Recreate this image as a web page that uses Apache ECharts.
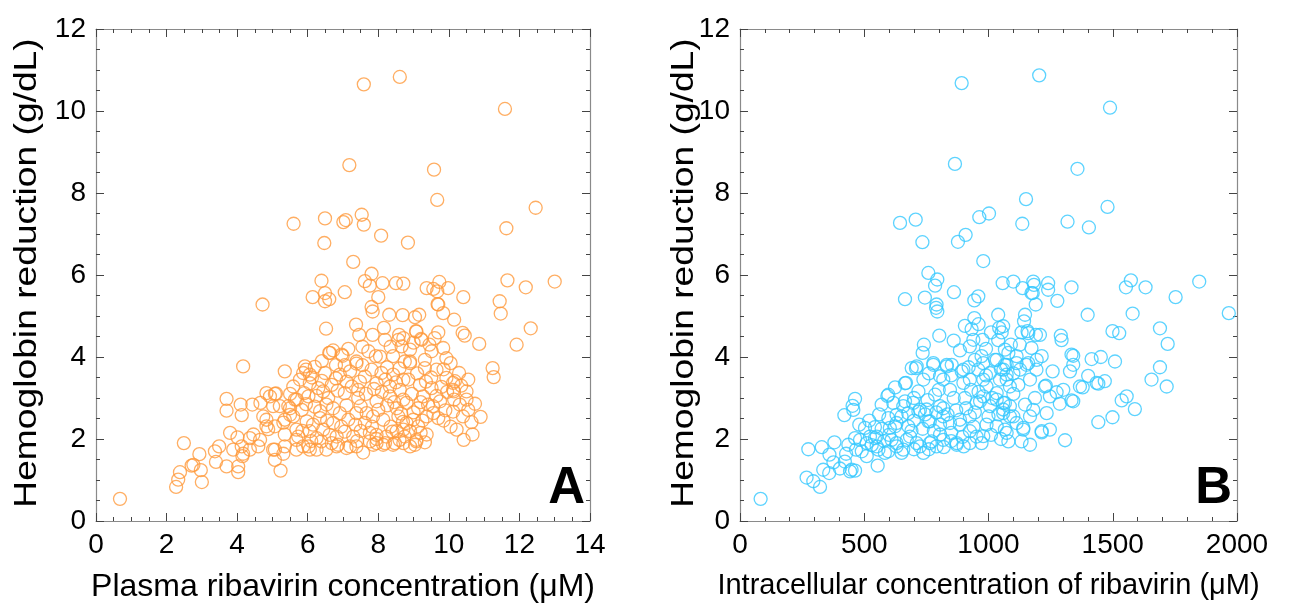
<!DOCTYPE html>
<html>
<head>
<meta charset="utf-8">
<script src="https://cdn.jsdelivr.net/npm/echarts@6/dist/echarts.min.js"></script>
<style>
  html, body { margin: 0; padding: 0; background: #fff; }
  #chart { width: 1310px; height: 611px; }
</style>
</head>
<body>
<div id="chart"></div>
<script>
// Panel A: plasma ribavirin (uM) vs hemoglobin reduction (g/dL)
const plasmaPoints = [
  [7.59,10.65],[8.61,10.83],[11.59,10.05],[7.18,8.68],[9.58,8.57],[9.67,7.83],[12.46,7.64],[5.60,7.25],
  [6.49,7.38],[7.08,7.34],[7.01,7.29],[7.53,7.47],[7.59,7.23],[8.08,6.96],[8.84,6.79],[6.47,6.78],
  [11.63,7.14],[7.29,6.32],
  [0.68,0.54],[7.81,6.03],[7.62,5.85],[7.76,5.74],[8.12,5.80],[6.39,5.86],[8.50,5.80],[8.71,5.79],
  [6.14,5.46],[6.49,5.56],[6.49,5.36],[6.61,5.41],[7.05,5.58],[8.00,5.46],[4.72,5.28],[7.81,5.22],
  [7.84,5.11],[8.31,5.03],[8.69,5.02],[9.04,4.97],[9.16,5.03],[9.37,5.68],[9.56,5.66],[9.73,5.83],
  [9.98,5.68],[9.67,5.60],[10.41,5.46],[9.68,5.29],[9.84,5.07],[10.15,4.91],[11.66,5.87],[12.18,5.70],
  [13.00,5.84],[11.44,5.36],[11.47,5.06],[12.32,4.70],[11.92,4.30],[10.86,4.32],[10.39,4.59],[10.45,4.52],
  [11.24,3.73],[11.27,3.51],[6.52,4.69],[7.37,4.79],[7.46,4.54],[7.84,4.54],[8.16,4.71],[8.19,4.42],
  [8.59,4.54],[8.66,4.26],[9.07,4.63],[9.21,4.44],[9.70,4.60],[9.60,4.46],[4.17,3.77],[5.35,3.65],
  [2.49,1.90],[2.38,1.19],[2.33,1.01],[2.27,0.83],[2.71,1.35],[2.97,1.24],[3.00,0.95],[2.93,1.63],
  [3.37,1.70],[3.40,1.44],[3.49,1.82],[3.70,1.33],[4.03,1.33],[4.03,1.19],[3.89,1.74],[4.17,1.64],
  [4.36,1.74],[3.80,2.15],[4.01,2.04],[4.46,2.11],[3.70,2.98],[3.70,2.69],[4.10,2.84],[4.13,2.58],
  [4.43,2.84],[4.66,2.88],[5.23,1.23],[5.07,1.74],[5.31,1.64],[5.35,1.82],
  [4.93,3.04],[5.07,3.10],[5.50,3.10],[5.59,3.28],[4.74,2.55],[5.02,2.80],[5.21,2.80],[5.45,2.80],
  [5.35,2.47],[5.59,2.55],[4.88,2.24],[4.83,2.47],[5.35,2.11],[5.68,2.23],[4.65,1.98],[4.60,1.82],
  [4.36,2.02],[5.02,1.74],[5.07,1.49],[4.83,2.31],[5.64,2.96],[5.50,2.75],[2.76,1.37],[4.15,1.58],
  [4.13,1.82],[4.83,3.12],[5.10,3.11],[5.07,2.31],[5.31,2.40],[5.50,2.59],
  [5.68,1.98],[5.87,1.82],[6.06,1.74],[6.25,1.74],[5.68,1.74],[6.82,1.82],[7.10,1.78],[7.38,1.82],
  [7.57,1.67],[7.86,1.86],[8.14,1.86],[8.42,1.86],[8.71,1.90],[8.90,1.82],[9.08,1.94],[9.32,1.92],
  [5.92,3.77],[5.95,3.69],[6.06,3.57],[6.20,3.76],[6.61,4.10],[6.72,4.16],[6.99,4.03],[7.38,3.84],
  [7.81,3.69],[7.93,4.02],[8.42,4.02],[8.90,3.85],[9.32,3.73],[10.29,3.61],[10.55,3.45],[10.12,3.37],
  [10.14,3.16],[10.15,2.96],[10.22,2.23],[10.42,1.98],[10.67,2.11],[10.90,2.54],[10.64,2.41],[10.74,2.86],
  [10.50,2.96],[8.57,4.42],
  [6.63,4.10],[6.96,4.06],[7.38,3.89],[7.72,4.14],[8.05,4.01],[8.75,3.89],
  [5.87,3.61],[6.49,3.61],[6.91,3.57],[7.20,3.65],[8.09,3.61],[8.42,3.57],[8.71,3.45],
  [6.06,3.36],[6.30,3.24],[6.68,3.32],[7.48,3.40],[7.43,3.20],[7.95,3.36],
  [8.33,3.28],[8.61,3.20],[5.69,2.96],[6.02,3.04],[6.44,3.16],[7.05,3.12],[7.43,3.00],[7.95,2.92],
  [8.33,3.04],[8.71,2.96],
  [5.83,2.71],[6.20,2.79],[6.53,2.84],[6.91,2.63],[7.38,2.63],[7.67,2.63],[8.00,2.71],[8.52,2.75],
  [5.97,2.43],[6.35,2.51],[6.72,2.39],[7.15,2.47],[7.62,2.39],[8.14,2.47],[8.57,2.55],[8.80,2.39],
  [5.73,2.06],[6.06,2.19],[6.44,2.23],[6.82,2.06],[7.29,2.06],[7.76,2.15],[8.23,2.06],[8.52,2.19],
  [6.02,1.82],[6.39,1.94],[6.86,1.86],[7.20,1.82],[7.76,1.94],[8.19,1.90],[8.47,1.90],[8.75,2.06],
  [6.53,1.74],[7.95,1.90],
  [9.70,5.28],[9.08,4.62],[9.23,4.42],[9.84,4.22],[9.93,3.97],[9.51,4.14],[8.90,4.18],[8.71,4.46],
  [8.90,3.89],[9.32,3.93],[9.65,3.69],[10.17,3.41],[9.93,3.49],
  [8.85,3.45],[9.18,3.32],[9.51,3.24],[9.79,3.27],[10.12,3.20],[10.50,3.16],[10.55,2.71],[10.31,2.84],
  [10.12,2.67],[9.27,3.04],[8.80,2.88],[9.13,2.75],[9.41,2.84],[9.75,2.92],[9.56,2.63],
  [8.99,2.47],[9.37,2.55],[9.70,2.51],
  [8.71,2.23],[8.90,2.19],[9.13,2.31],[9.37,2.11],[9.08,1.98],[9.04,1.86],
  [5.78,3.45],[6.12,3.50],[6.40,3.42],[6.80,3.48],[7.10,3.40],[7.62,3.52],[7.88,3.22],[8.20,3.45],[8.50,3.38],
  [5.90,3.12],[6.25,3.05],[6.58,3.00],[6.85,3.18],[7.25,3.28],[7.65,3.10],[8.10,3.15],[8.45,2.90],[8.95,3.10],
  [5.95,2.85],[6.35,2.68],[6.72,2.75],[7.10,2.82],[7.50,2.80],[7.85,2.55],[8.25,2.82],[8.65,2.62],[9.00,2.65],
  [6.15,2.35],[6.55,2.45],[6.95,2.30],[7.35,2.35],[7.82,2.30],[8.35,2.30],[8.70,2.42],[9.25,2.45],
  [5.85,2.20],[6.25,2.02],[6.62,2.10],[7.05,2.18],[7.50,2.20],[7.95,2.10],[8.40,2.18],[9.20,2.15],
  [6.10,1.95],[6.68,1.90],[7.40,1.95],[7.95,2.00],[8.60,1.98],
  [6.80,3.80],[7.05,3.80],[7.55,3.80],[8.25,3.75],[8.60,3.72],[9.10,3.60],[9.50,3.50],[9.85,3.70],[10.05,3.85],
  [6.40,3.90],[7.15,4.20],[7.55,4.25],[8.35,4.25],[9.00,4.35],[9.45,4.30],
  [9.35,3.40],[9.65,3.05],[9.95,3.15],[10.35,3.30],[9.55,2.80],[9.90,2.70],[10.40,2.55],[9.20,2.90],
  [9.85,2.45],[10.05,2.30]
];

// Panel B: intracellular ribavirin (uM) vs hemoglobin reduction (g/dL)
const cellPoints = [
  [892,10.68],[1204,10.87],[1489,10.08],[865,8.71],[1358,8.59],[1151,7.85],[1479,7.66],[644,7.27],
  [707,7.35],[963,7.41],[1002,7.50],[1136,7.25],[1318,7.30],[1404,7.16],[908,6.98],[877,6.81],
  [734,6.80],[979,6.34],
  [83,0.54],[758,6.05],[794,5.89],[785,5.74],[664,5.41],[744,5.45],[791,5.28],[794,5.11],[789,5.20],
  [861,5.58],[959,5.48],[943,5.38],[1057,5.80],[1100,5.84],[1137,5.68],[1180,5.84],[1183,5.76],
  [1178,5.56],[1240,5.80],[1240,5.64],[1190,5.28],[1277,5.37],[1334,5.70],[1399,5.03],[1553,5.70],
  [1573,5.87],[1632,5.70],[1580,5.06],[1753,5.46],[1848,5.84],[1967,5.07],[1499,4.63],[1526,4.58],
  [1690,4.70],[1721,4.32],[1509,3.89],[1690,3.75],[1656,3.45],[1717,3.28],[1556,3.04],[1536,2.94],
  [1589,2.73],[1442,2.41],[1499,2.53],[1308,1.97],[1341,4.03],[1341,3.81],[1415,3.95],[1452,4.00],
  [1401,3.54],[1435,3.37],[1468,3.41],[1328,3.65],[1368,3.28],[1379,3.26],[1341,2.92],[1291,4.52],
  [1294,4.41],[1214,4.02],[1258,3.65],[1231,3.30],[1274,3.14],[1287,2.86],[1247,2.23],[1214,2.16],
  [1147,5.03],[1143,4.87],[1157,4.63],[1191,4.54],[1207,4.54],[1173,4.22],[1039,5.03],[1043,4.71],
  [1039,4.41],[1080,4.10],[1113,4.02],[943,4.95],[932,4.68],[939,4.42],[925,4.26],[976,4.42],
  [905,4.76],[885,4.16],[802,4.52],[735,4.10],[708,3.73],[778,3.81],[832,3.81],[852,3.81],
  [668,3.37],[624,3.26],[597,3.08],[570,2.84],[463,2.98],[456,2.71],[420,2.58],[275,1.75],
  [329,1.80],[380,1.92],[268,1.06],[295,0.97],[322,0.83],[335,1.25],[376,1.43],[360,1.62],
  [402,1.28],[449,1.25],[463,1.23],[427,1.64],[467,1.74],[503,2.27],[510,1.58],[554,1.35],
  [557,1.74],[543,2.02],[597,1.70],
  [453,2.81],[359,1.17],[422,1.45],[436,1.86],[463,2.02],[483,1.98],[543,2.29],[550,2.06],
  [523,2.06],[583,1.66],[603,2.27],[597,2.51],[610,1.98],[593,3.05],[617,2.88],[630,2.59],
  [630,2.39],[630,1.90],[443,1.21],
  [1066,4.18],[1060,3.69],[892,3.65],[959,3.69],[1006,3.61],[1026,3.93],[972,4.02],
  [664,3.36],[738,3.45],[805,3.53],[845,3.20],[925,3.45],[992,3.28],[1046,3.45],[1086,3.28],
  [664,2.92],[718,3.16],[724,2.71],[785,3.08],[818,2.75],[905,3.00],[966,2.92],[1033,3.12],[1066,2.88],
  [624,2.31],[677,2.63],[677,2.31],[758,2.43],[805,2.35],[885,2.35],[925,2.55],[992,2.35],[1033,2.31],
  [684,2.06],[724,1.82],[771,1.94],[805,2.11],[872,1.86],[952,2.06],[972,1.90],[1066,2.23],
  [650,1.66],[738,1.66],[791,1.82],[925,1.90],
  [1173,5.56],[1059,4.75],[1133,4.60],[1160,4.58],[1053,4.60],
  [1126,4.30],[1066,3.81],[1113,3.85],[1153,3.81],[1193,3.69],[1334,4.06],
  [1073,3.57],[1120,3.32],[1167,3.45],[1227,3.28],[1301,3.20],[1442,3.35],
  [1059,2.88],[1086,2.80],[1147,2.84],[1187,3.00],[1234,2.63],[1247,3.04],[1334,2.94],
  [1059,2.63],[1100,2.55],[1180,2.71],
  [1073,2.15],[1140,2.27],[1080,1.94],[1133,1.94],[1167,1.86],[1214,2.19],
  [657,2.80],[697,2.88],[718,2.67],[764,2.43],[751,2.72],[805,2.80],[818,2.55],[845,2.39],
  [885,2.47],[952,2.88],[979,3.04],[1006,2.80],[1033,2.96],[1059,2.72],[1086,2.55],[1113,2.39],
  [1140,2.23],[1167,2.55],[925,2.19],[979,2.07],[872,1.90],[818,1.98],[764,1.90],[711,1.90],
  [671,1.98],[630,1.82],[657,1.74],[550,1.82],[510,1.90],
  [711,3.77],[691,3.73],[778,3.85],[832,3.77],[899,3.69],[945,3.93],[979,3.85],[1033,3.93],
  [1073,3.81],[1127,3.69],[1160,3.85],[1194,3.93],[818,3.45],[899,3.37],[979,3.45],[1073,3.45],
  [650,2.55],[700,2.45],[745,2.60],[790,2.65],[835,2.60],[870,2.70],[910,2.75],[945,2.65],[1000,2.55],[1040,2.60],
  [690,2.20],[735,2.25],[780,2.20],[850,2.15],[895,2.05],[940,2.30],[1010,2.10],[1050,2.00],
  [700,3.00],[755,2.95],[800,3.20],[860,3.00],[930,3.20],[960,3.15],[1015,3.00],[1100,3.10],
  [760,3.60],[850,3.55],[920,3.75],[990,3.55],[1050,3.70],[1100,3.60],
  [600,2.10],[570,2.25],[530,1.85],[490,1.70],[580,1.95],[520,2.45],[480,2.35],[560,2.60],
  [740,4.30],[860,4.40],[990,4.20],[1090,4.30],[1010,4.60],[960,4.80],
  [700,1.75],[760,1.75],[820,1.80],[900,1.82],[850,1.95]
];

const yTitle = 'Hemoglobin reduction (g/dL)';
const xTitleA = 'Plasma ribavirin concentration (\u03bcM)';
const xTitleB = 'Intracellular concentration of ribavirin (\u03bcM)';

const FONT = "'Liberation Sans', Arial, sans-serif";
const frameColor = '#8a8a8a';
const tickColor = '#444';

const chart = echarts.init(document.getElementById('chart'));

// one side of a framed panel; labels and name only on bottom
function makeAxis(gridIndex, position, min, max, interval, minorSplit, withLabel, name, nameSize) {
    return {
        type: 'value',
        gridIndex: gridIndex,
        position: position,
        min: min,
        max: max,
        interval: interval,
        axisLine: { show: true, onZero: false, lineStyle: { color: frameColor, width: 1.2 } },
        axisTick: { show: true, inside: true, length: 8, lineStyle: { color: tickColor, width: 1 } },
        minorTick: { show: true, splitNumber: minorSplit, length: 4, lineStyle: { color: tickColor, width: 1 } },
        splitLine: { show: false },
        axisLabel: {
            show: withLabel, fontSize: 28, color: '#000', fontFamily: FONT, margin: 10,
            formatter: (v) => String(v)
        },
        name: name,
        nameLocation: 'middle',
        nameGap: 50,
        nameTextStyle: { fontSize: nameSize || 29, color: '#000', fontFamily: FONT }
    };
}

// rotated y title, stretched along its length like the source figure
function yTitleText(cx) {
    return {
        type: 'text',
        x: cx,
        y: 273,
        rotation: Math.PI / 2,
        scaleX: 1.2,
        style: { text: yTitle, font: '31px ' + FONT, fill: '#000', align: 'center', verticalAlign: 'middle' }
    };
}

const option = {
    animation: false,
    backgroundColor: '#fff',
    grid: [
        { left: 96, top: 29, width: 494, height: 492 },
        { left: 740, top: 29, width: 497, height: 492 }
    ],
    xAxis: [
        makeAxis(0, 'bottom', 0, 14, 2, 4, true, xTitleA, 32),
        makeAxis(0, 'top', 0, 14, 2, 4, false, ''),
        makeAxis(1, 'bottom', 0, 2000, 500, 5, true, xTitleB, 29),
        makeAxis(1, 'top', 0, 2000, 500, 5, false, '')
    ],
    yAxis: [
        makeAxis(0, 'left', 0, 12, 2, 4, true, ''),
        makeAxis(0, 'right', 0, 12, 2, 4, false, ''),
        makeAxis(1, 'left', 0, 12, 2, 4, true, ''),
        makeAxis(1, 'right', 0, 12, 2, 4, false, '')
    ],
    graphic: [
        yTitleText(27),
        yTitleText(684),
        { type: 'text', right: 1310 - 585, bottom: 611 - 514,
          style: { text: 'A', font: 'bold 51px ' + FONT, fill: '#000' } },
        { type: 'text', right: 1310 - 1232, bottom: 611 - 514,
          style: { text: 'B', font: 'bold 51px ' + FONT, fill: '#000' } }
    ],
    series: [
        {
            type: 'scatter',
            xAxisIndex: 0,
            yAxisIndex: 0,
            symbol: 'circle',
            symbolSize: 13,
            data: plasmaPoints,
            itemStyle: { color: 'rgba(0,0,0,0)', borderColor: '#FF9a3c', borderWidth: 1.3 }
        },
        {
            type: 'scatter',
            xAxisIndex: 2,
            yAxisIndex: 2,
            symbol: 'circle',
            symbolSize: 13,
            data: cellPoints,
            itemStyle: { color: 'rgba(0,0,0,0)', borderColor: '#35c8ff', borderWidth: 1.3 }
        }
    ]
};

chart.setOption(option);

window.addEventListener('resize', () => {
    chart.resize();
});
</script>
</body>
</html>
